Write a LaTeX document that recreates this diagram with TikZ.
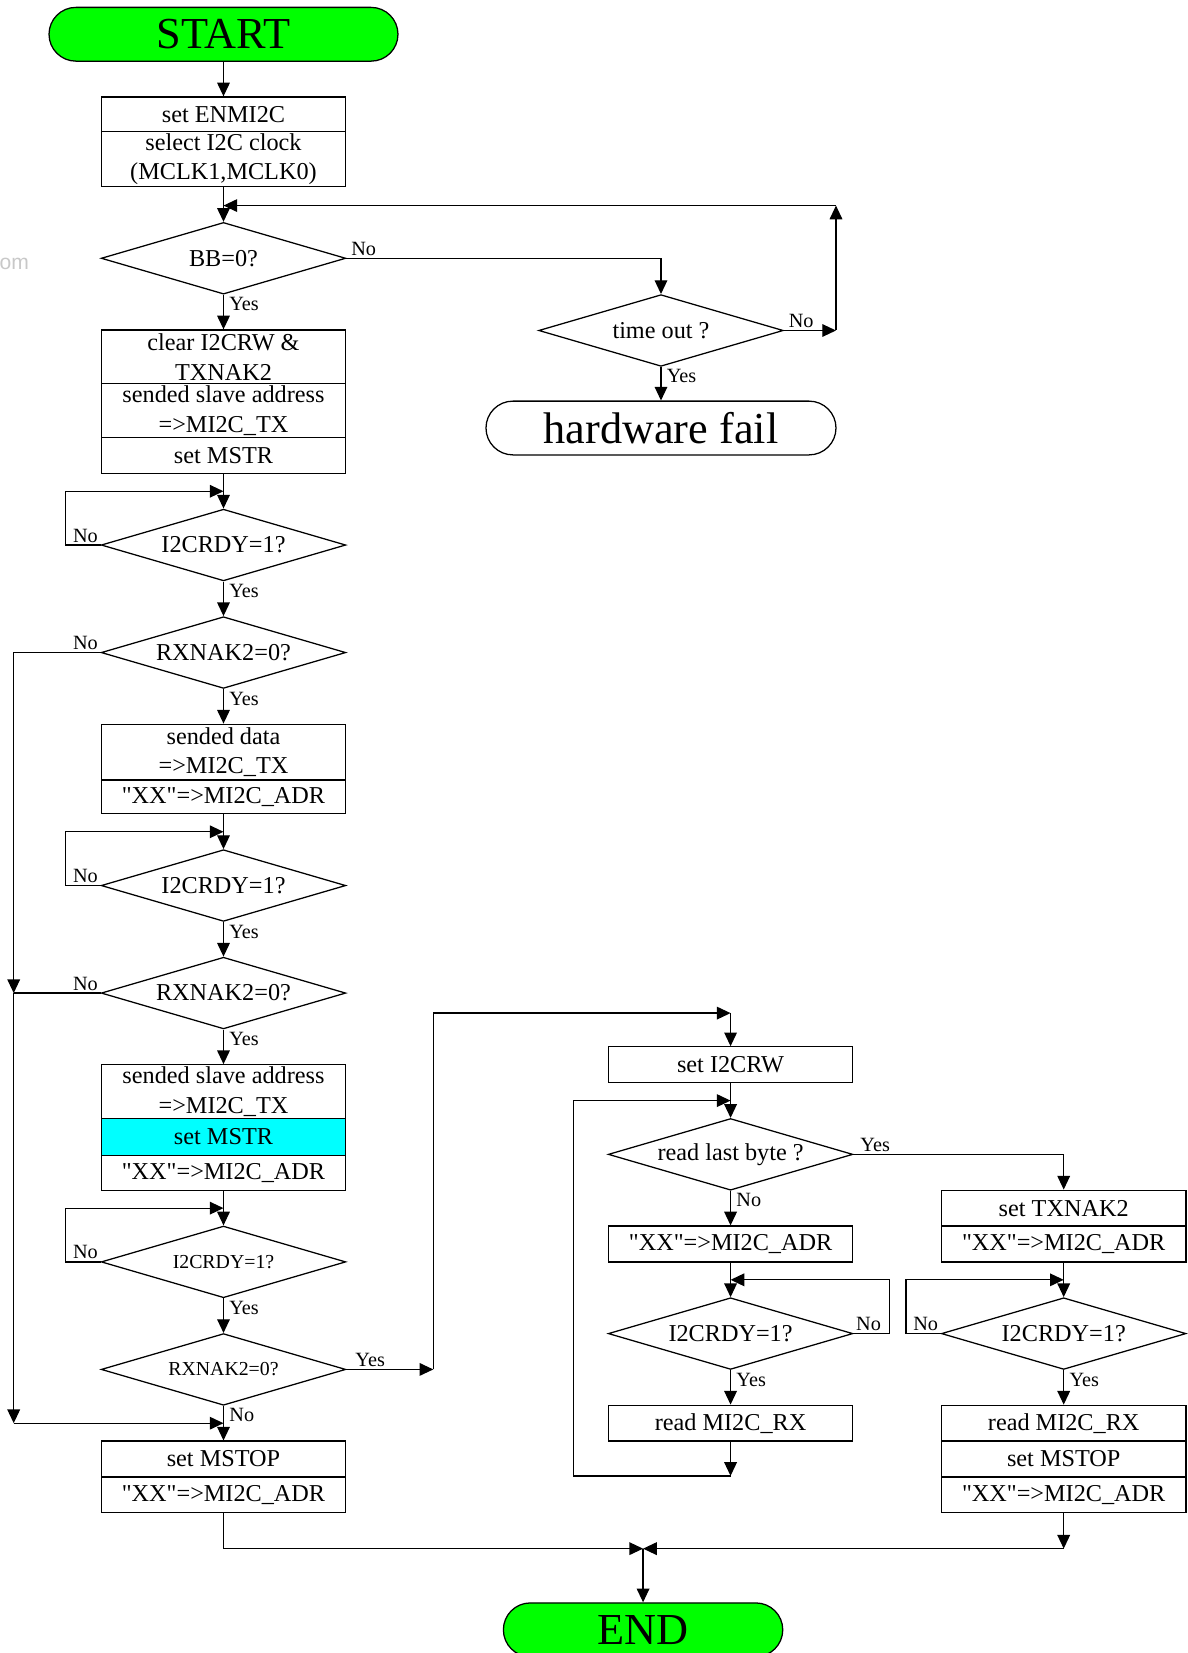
\documentclass[tikz,border=0pt]{standalone}
\usepackage{fontspec}
\setmainfont{Liberation Serif}
\newfontfamily\wmfont{Liberation Sans}
\usetikzlibrary{shapes.geometric,arrows.meta}
\definecolor{termgreen}{RGB}{0,255,0}
\definecolor{cyanfill}{RGB}{0,255,255}
\definecolor{wmgray}{RGB}{200,200,200}
\newcommand{\qxx}{\textquotedbl XX\textquotedbl=>MI2C\_ADR}
\tikzset{
  cell/.style={draw, rectangle, minimum width=116pt, inner sep=0pt, align=center,
    font={\fontsize{11.5pt}{14pt}\selectfont}},
  hp/.style={minimum height=#1*0.5pt},
  dia/.style={draw, diamond, aspect=3.4, minimum width=116pt, minimum height=34pt,
    inner sep=0pt, font={\fontsize{11.5pt}{14pt}\selectfont}},
  sdia/.style={dia, font={\fontsize{9.4pt}{11pt}\selectfont}},
  term/.style={draw, rectangle, rounded corners=12.75pt, minimum height=25.5pt,
    inner sep=0pt, font={\fontsize{21pt}{24pt}\selectfont}},
  lab/.style={inner sep=1pt, font={\fontsize{9.6pt}{11pt}\selectfont}},
  arr/.style={-{Triangle[length=6.5pt,width=6pt]}},
}
\begin{document}
\begin{tikzpicture}[x=0.5pt, y=-0.5pt, line width=0.6pt]
\useasboundingbox (0,0) rectangle (1126,1568);
\node[text=wmgray, anchor=west, inner sep=0pt, font={\wmfont\fontsize{10pt}{12pt}\selectfont}] (wm) at (-1,250) {om};

% terminals
\node[term, fill=termgreen, minimum width=165.5pt] (start) at (212,32.5) {START};
\node[term, minimum width=166pt] (hw) at (627,406) {hardware fail};
\node[term, fill=termgreen, minimum width=132.5pt] (end) at (610,1546) {END};

% left column
\node[cell,hp=33] (b1a) at (212,108.5) {set ENMI2C};
\node[cell,hp=52] (b1b) at (212,151) {select I2C clock\\(MCLK1,MCLK0)};
\node[dia] (d1) at (212,245) {BB=0?};
\node[dia] (d2) at (627,313.5) {time out ?};
\node[cell,hp=51] (b2a) at (212,338.5) {clear I2CRW \&\\TXNAK2};
\node[cell,hp=51] (b2b) at (212,389.5) {sended slave address\\=>MI2C\_TX};
\node[cell,hp=34] (b2c) at (212,432) {set MSTR};
\node[dia] (d3) at (212,517) {I2CRDY=1?};
\node[dia] (d4) at (212,619) {RXNAK2=0?};
\node[cell,hp=53] (b3a) at (212,713.5) {sended data\\=>MI2C\_TX};
\node[cell,hp=32] (b3b) at (212,756) {\qxx};
\node[dia] (d5) at (212,840) {I2CRDY=1?};
\node[dia] (d6) at (212,942) {RXNAK2=0?};
\node[cell,hp=51] (b4a) at (212,1035.5) {sended slave address\\=>MI2C\_TX};
\node[cell,hp=35,fill=cyanfill] (b4b) at (212,1078.5) {set MSTR};
\node[cell,hp=33] (b4c) at (212,1112.5) {\qxx};
\node[sdia] (d7) at (212,1197) {I2CRDY=1?};
\node[sdia] (d8) at (212,1299) {RXNAK2=0?};
\node[cell,hp=34] (b5a) at (212,1384) {set MSTOP};
\node[cell,hp=34] (b5b) at (212,1418) {\qxx};

% middle column
\node[cell,hp=34] (r1) at (693,1010) {set I2CRW};
\node[dia] (d9) at (693,1095) {read last byte ?};
\node[cell,hp=34] (r2) at (693,1180) {\qxx};
\node[dia] (d10) at (693,1265) {I2CRDY=1?};
\node[cell,hp=34] (r3) at (693,1350) {read MI2C\_RX};

% right column
\node[cell,hp=34] (s1) at (1009,1146) {set TXNAK2};
\node[cell,hp=34] (s2) at (1009,1180) {\qxx};
\node[dia] (d11) at (1009,1265) {I2CRDY=1?};
\node[cell,hp=34] (s3) at (1009,1350) {read MI2C\_RX};
\node[cell,hp=34] (s4) at (1009,1384) {set MSTOP};
\node[cell,hp=34] (s5) at (1009,1418) {\qxx};

% junction coordinates
\coordinate (j1) at (212,195);
\coordinate (c1) at (793,313.5);
\coordinate (c2) at (793,195);
\coordinate (l3) at (212,466);
\coordinate (l5) at (212,789);
\coordinate (l7) at (212,1146);
\coordinate (j2) at (13,942);
\coordinate (j3) at (13,1350);
\coordinate (j4) at (212,1350);
\coordinate (k1) at (411,1299);
\coordinate (k2) at (693,961);
\coordinate (m) at (610,1469);
\coordinate (m2) at (1009,1469);
\coordinate (n1) at (693,1400);
\coordinate (n2) at (693,1044);
\coordinate (p1) at (693,1214);
\coordinate (p2) at (1009,1214);

% connectors: top part
\draw[arr] (start.south) -- (b1a.north);
\draw[arr] (b1b.south) -- (d1.north);
\draw[arr] (d1.east) -| (d2.north);
\node[lab, anchor=south west] at ([xshift=1pt]d1.east) {No};
\draw[arr] (d2.east) -- (c1);
\node[lab, anchor=south west] at ([xshift=1pt]d2.east) {No};
\draw[arr] (c1) -- (c2);
\draw[arr] (c2) -- (j1);
\draw[arr] (d2.south) -- (hw.north);
\node[lab, anchor=north west] at ([xshift=1.5pt]d2.south) {Yes};
\draw[arr] (d1.south) -- (b2a.north);
\node[lab, anchor=north west] at ([xshift=1.5pt]d1.south) {Yes};

\draw[arr] (b2c.south) -- (d3.north);
\draw[arr] (d3.west) -- ++(-33,0) |- (l3);
\node[lab, anchor=south east] at (d3.west) {No};
\draw[arr] (d3.south) -- (d4.north);
\node[lab, anchor=north west] at ([xshift=1.5pt]d3.south) {Yes};
\draw[arr] (d4.west) -| (j2);
\node[lab, anchor=south east] at (d4.west) {No};
\draw[arr] (d4.south) -- (b3a.north);
\node[lab, anchor=north west] at ([xshift=1.5pt]d4.south) {Yes};

\draw[arr] (b3b.south) -- (d5.north);
\draw[arr] (d5.west) -- ++(-33,0) |- (l5);
\node[lab, anchor=south east] at (d5.west) {No};
\draw[arr] (d5.south) -- (d6.north);
\node[lab, anchor=north west] at ([xshift=1.5pt]d5.south) {Yes};
\draw (d6.west) -- (j2);
\node[lab, anchor=south east] at (d6.west) {No};
\draw[arr] (j2) -- (j3);
\draw[arr] (j3) -- (j4);
\draw[arr] (d6.south) -- (b4a.north);
\node[lab, anchor=north west] at ([xshift=1.5pt]d6.south) {Yes};

\draw[arr] (b4c.south) -- (d7.north);
\draw[arr] (d7.west) -- ++(-33,0) |- (l7);
\node[lab, anchor=south east] at (d7.west) {No};
\draw[arr] (d7.south) -- (d8.north);
\node[lab, anchor=north west] at ([xshift=1.5pt]d7.south) {Yes};
\draw[arr] (d8.east) -- (k1);
\node[lab, anchor=south west] at ([xshift=3pt]d8.east) {Yes};
\draw[arr] (k1) |- (k2);
\draw[arr] (k2) -- (r1.north);
\draw[arr] (d8.south) -- (b5a.north);
\node[lab, anchor=north west] at ([xshift=1.5pt]d8.south) {No};

% bottom merge
\draw[arr] (b5b.south) |- (m);
\draw[arr] (s5.south) -- (m2);
\draw[arr] (m2) -- (m);
\draw[arr] (m) -- (end.north);

% middle column connectors
\draw[arr] (r1.south) -- (d9.north);
\draw[arr] (d9.east) -| (s1.north);
\node[lab, anchor=south west] at ([xshift=2pt]d9.east) {Yes};
\draw[arr] (d9.south) -- (r2.north);
\node[lab, anchor=north west] at ([xshift=1.5pt]d9.south) {No};
\draw[arr] (r2.south) -- (d10.north);
\draw[arr] (d10.east) -- ++(34,0) |- (p1);
\node[lab, anchor=south west] at (d10.east) {No};
\draw[arr] (d10.south) -- (r3.north);
\node[lab, anchor=north west] at ([xshift=1.5pt]d10.south) {Yes};
\draw[arr] (r3.south) -- (n1);
\draw[arr] (n1) -- ++(-149,0) |- (n2);

% right column connectors
\draw[arr] (s2.south) -- (d11.north);
\draw[arr] (d11.west) -- ++(-33,0) |- (p2);
\node[lab, anchor=south east] at (d11.west) {No};
\draw[arr] (d11.south) -- (s3.north);
\node[lab, anchor=north west] at ([xshift=1.5pt]d11.south) {Yes};
\end{tikzpicture}
\end{document}
